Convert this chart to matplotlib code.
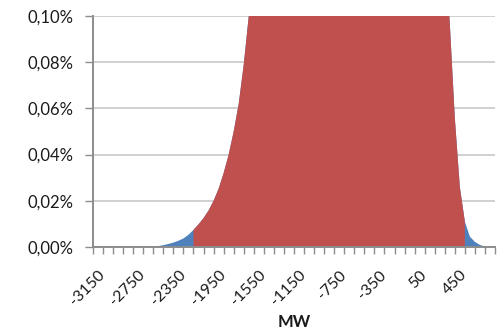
import numpy as np
import matplotlib
matplotlib.use('Agg')
import matplotlib.pyplot as plt
from matplotlib.ticker import FuncFormatter
from matplotlib.transforms import ScaledTranslation

# probability (in %) per 50 MW bin;
# values above 0,10% are off-scale estimates (the chart clips them)
mw = np.arange(-3150, 851, 50)
prob = np.array([
    0, 0, 0, 0, 0, 0, 0, 0, 0, 0, 0, 0,                      # -3150 .. -2600
    0.0001, 0.0004, 0.0008, 0.0013, 0.0019, 0.0027,          # -2550 .. -2300
    0.0037, 0.0053, 0.0074, 0.0098, 0.0125, 0.0158,          # -2250 .. -2000
    0.0200, 0.0252, 0.0320, 0.0400, 0.0500, 0.0620,          # -1950 .. -1700
    0.0790, 0.1000, 0.1250, 0.16, 0.20, 0.25,                # -1650 .. -1400
    0.30, 0.35, 0.40, 0.45, 0.50, 0.55,                      # -1350 .. -1100
    0.60, 0.64, 0.67, 0.70, 0.72, 0.73,                      # -1050 .. -800
    0.74, 0.74, 0.73, 0.72, 0.70, 0.67,                      # -750 .. -500
    0.64, 0.60, 0.55, 0.50, 0.45, 0.40,                      # -450 .. -200
    0.35, 0.31, 0.27, 0.24, 0.21, 0.19,                      # -150 .. 100
    0.175, 0.16, 0.15, 0.14, 0.13, 0.097,                    # 150 .. 400
    0.056, 0.026, 0.011, 0.0045, 0.0022, 0.0009,             # 450 .. 700
    0.0002, 0, 0,                                            # 750 .. 850
])

red_lo, red_hi = -2150, 550   # highlighted (red) range
y_ticks = [0, 0.02, 0.04, 0.06, 0.08, 0.10]
x_label_max = 450

plt.rcParams['font.family'] = ['Lato', 'DejaVu Sans']

fig = plt.figure(figsize=(5.01, 3.31), dpi=100)
ax = fig.add_axes([93 / 501, 84 / 331, 402 / 501, 231 / 331])

blue = '#4F81BD'
red = '#C0504D'
ax.fill_between(mw, 0, prob, color=blue, lw=0, zorder=2)
sel = (mw >= red_lo) & (mw <= red_hi)
ax.fill_between(mw[sel], 0, prob[sel], color=red, lw=0, zorder=3)

ax.set_xlim(-3150, 850)
ax.set_ylim(0, 0.10)
ax.set_yticks(y_ticks)
ax.yaxis.set_major_formatter(FuncFormatter(lambda v, p: f'{v:.2f}%'.replace('.', ',')))

xt = np.arange(-3150, 851, 100)
ax.set_xticks(xt)
ax.set_xticklabels([str(v) if (v + 3150) % 400 == 0 and v <= x_label_max else '' for v in xt],
                   rotation=45, ha='right', va='top', rotation_mode='anchor')

ax.grid(axis='y', color='#D0D0D0', lw=1.4, zorder=1)
ax.set_axisbelow(True)
for s in ['top', 'right']:
    ax.spines[s].set_visible(False)
for s in ['left', 'bottom']:
    ax.spines[s].set_color('#8C8C8C')
    ax.spines[s].set_linewidth(1.4)
    ax.spines[s].set_zorder(5)

ax.tick_params(axis='x', length=5, width=1, color='#8C8C8C', pad=10,
               labelsize=11.5, labelcolor='#1a1a1a')
ax.tick_params(axis='y', length=6, width=1, color='#8C8C8C', pad=8,
               labelsize=12, labelcolor='#1a1a1a')

# nudge the rotated labels right like the original (after tick_params, which resets transforms)
shift = ScaledTranslation(5 / 100, 0, fig.dpi_scale_trans)
for tick in ax.xaxis.get_major_ticks():
    tick.label1.set_transform(tick.label1.get_transform() + shift)

fig.text(294 / 501, 1 - 322 / 331, 'MW', ha='center', va='center',
         fontsize=12, fontweight='bold', color='#1a1a1a')

fig.savefig('out.png', dpi=100)
